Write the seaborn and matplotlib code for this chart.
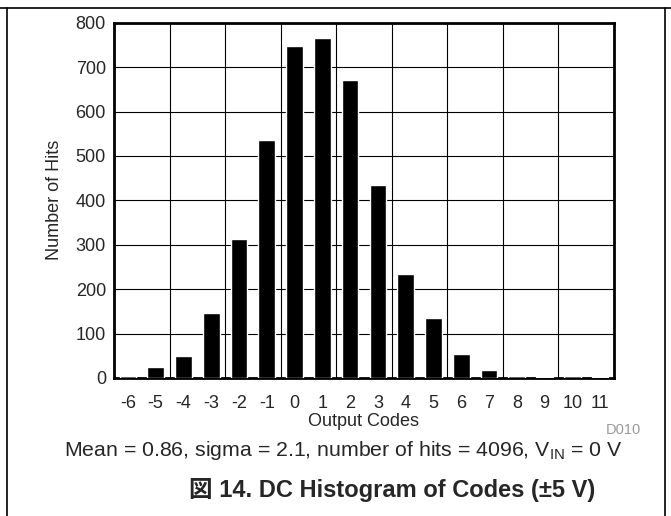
import matplotlib
matplotlib.use("Agg")
import matplotlib.pyplot as plt
import seaborn as sns
import pandas as pd
from matplotlib.lines import Line2D

codes = [-6, -5, -4, -3, -2, -1, 0, 1, 2, 3, 4, 5, 6, 7, 8, 9, 10, 11]
hits = [5, 25, 49, 146, 312, 537, 748, 766, 670, 434, 234, 135, 53, 19, 4, 2, 4, 2]
yticks = [0, 100, 200, 300, 400, 500, 600, 700, 800]

sns.set_style("white")
plt.rcParams['font.family'] = ['Liberation Sans', 'Noto Sans CJK JP', 'DejaVu Sans']

df = pd.DataFrame({"code": codes, "hits": hits})

W, H = 671, 516
L, R, T, B = 114, 614, 22.7, 378

fig = plt.figure(figsize=(W / 100, H / 100), dpi=100)
ax = fig.add_axes([L / W, 1 - B / H, (R - L) / W, (B - T) / H])

sns.barplot(data=df, x="code", y="hits", color="black", width=0.6,
            order=codes, ax=ax, saturation=1, zorder=3)

ax.set_ylim(0, 800)
ax.set_xlim(-0.5, len(codes) - 0.5)
ax.set_yticks(yticks)
ax.set_yticklabels([str(v) for v in yticks], fontsize=13)
ax.set_xticks(range(len(codes)))
ax.set_xticklabels([str(c) for c in codes], fontsize=13)
ax.tick_params(axis="y", length=0, pad=5.8)
ax.tick_params(axis="x", length=0, pad=12.5)

for y in yticks[1:-1]:
    ax.axhline(y, color="black", lw=0.8, zorder=1)
for k in range(1, 9):
    ax.axvline(-0.5 + 2 * k, color="black", lw=0.8, zorder=1)

for s in ax.spines.values():
    s.set_visible(True)
    s.set_color("black")
    s.set_linewidth(2)

ax.set_xlabel("Output Codes", fontsize=13)
ax.xaxis.set_label_coords(0.5, -(413 - B) / (B - T))
ax.set_ylabel("Number of Hits", fontsize=13)
ax.yaxis.set_label_coords((62.5 - L) / (R - L), 0.5)

fig.text(623 / W, 1 - 430 / H, "D010", fontsize=10.5, color="#999999",
         ha="center", va="center")
fig.text(343 / W, 1 - 450 / H,
         r"Mean = 0.86, sigma = 2.1, number of hits = 4096, V$_{\mathregular{IN}}$ = 0 V",
         fontsize=15.3, ha="center", va="center")
fig.text(392 / W, 1 - 490 / H, "図 14. DC Histogram of Codes (±5 V)",
         fontsize=17, fontweight="bold", ha="center", va="center")

# page border lines
fig.add_artist(Line2D([0, 1], [1 - 8 / H, 1 - 8 / H], color="black", lw=1.2,
                      transform=fig.transFigure))
fig.add_artist(Line2D([6.5 / W, 6.5 / W], [0, 1 - 8 / H], color="black", lw=1.2,
                      transform=fig.transFigure))
fig.add_artist(Line2D([665 / W, 665 / W], [0, 1 - 8 / H], color="black", lw=1.2,
                      transform=fig.transFigure))

fig.savefig("out.png", dpi=100)
